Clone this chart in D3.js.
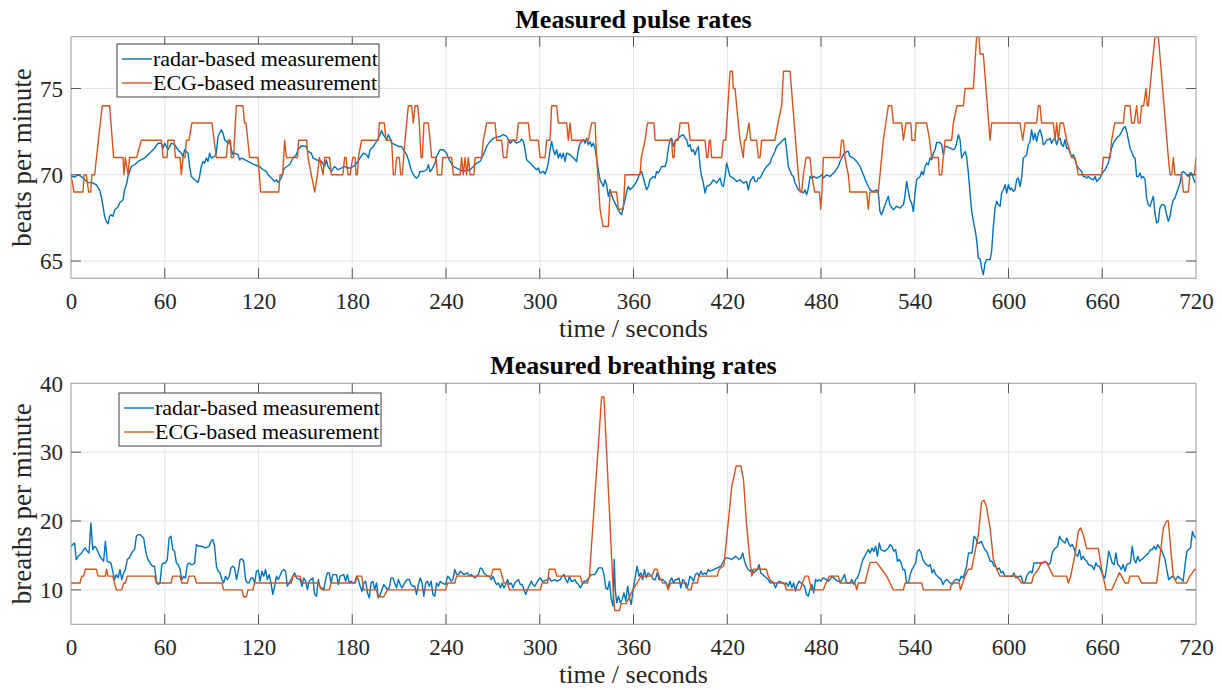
<!DOCTYPE html>
<html>
<head>
<meta charset="utf-8">
<script src="https://cdn.jsdelivr.net/npm/d3@7/dist/d3.min.js"></script>
<style>
  html, body { margin: 0; padding: 0; background: #fff; }
  svg { display: block; font-family: "Liberation Serif", "Times New Roman", serif; }
</style>
</head>
<body>
<svg id="chart" width="1222" height="690"></svg>
<script>
// values, [time in s, rate]
var xTicks = [0, 60, 120, 180, 240, 300, 360, 420, 480, 540, 600, 660, 720];
var pulseTicks = [65, 70, 75];
var breathTicks = [10, 20, 30, 40];
var seriesNames = ["radar-based measurement", "ECG-based measurement"];

var pulseRadar = [[0.2,69.94],[2.3,69.86],[4.5,70],[6.6,69.9],[8.7,69.71],[10.9,69.56],[14.1,69.52],[16.2,69.42],[18.3,69.13],[19.4,68.75],[20.5,68.17],[21.5,67.59],[22.6,67.3],[23.7,67.16],[24.7,67.59],[25.8,67.68],[26.9,67.59],[27.9,67.97],[30.1,68.13],[31.1,68.36],[33.3,68.55],[34.3,69.13],[35.4,69.42],[36.5,69.9],[37.5,70.19],[38.6,70.48],[40.7,70.58],[42.9,70.77],[45,70.87],[47.1,70.97],[49.3,71.16],[51.4,71.35],[53.5,71.54],[55.7,71.83],[57.8,71.83],[58.9,71.54],[59.9,71.83],[62.1,71.45],[64.2,71.83],[66.3,71.74],[68.5,71.45],[70.6,71.25],[71.7,71.06],[72.7,71.45],[74.9,71.25],[75.9,70.48],[77,69.9],[79.1,69.71],[81.3,69.56],[82.3,69.9],[83.4,70.48],[84.5,70.77],[85.5,70.68],[86.6,70.97],[87.7,70.77],[88.7,71.25],[89.8,70.97],[91.9,71.06],[93,71.25],[94.1,72.22],[96.2,72.61],[97.3,72.41],[98.3,72.03],[100.5,71.83],[101.5,71.93],[102.6,71.45],[103.7,71.16],[104.7,71.25],[106.9,71.16],[107.9,70.87],[109,70.97],[111.1,70.87],[113.3,70.77],[115.4,70.68],[117.5,70.58],[120.7,70.48],[122.9,70.29],[125,70.19],[126.1,70],[128.2,69.81],[130.3,69.61],[131.4,69.71],[132.5,69.56],[134.6,69.81],[135.7,70.19],[136.7,70.39],[139.9,70.58],[142.1,70.97],[144.2,71.16],[145.3,71.45],[147.4,71.68],[150.6,71.64],[151.7,71.35],[153.8,71.25],[154.9,70.97],[157,70.87],[160.2,70.77],[162.3,70.48],[163.4,70.87],[164.5,70.48],[166.6,70.19],[168.7,70.48],[170.9,70.29],[173,70.39],[175.1,70.48],[177.3,70.39],
  [178.6,70.39],[180.7,70.48],[182.8,70.68],[185,70.97],[187.1,71.25],[189.2,71.16],[190.3,70.97],[191.4,71.45],[193.5,71.64],[195.6,71.93],[197.8,72.32],[198.8,72.57],[199.9,72.32],[202,72.03],[203.1,72.32],[204.2,72.12],[205.2,71.83],[207.4,71.74],[209.5,71.64],[211.6,71.64],[212.7,71.45],[214.8,71.16],[215.9,70.87],[218,70.19],[220.2,69.86],[221.2,69.81],[222.3,69.9],[223.4,70.19],[225.5,70.19],[227.6,70.29],[228.7,70.58],[229.8,70.19],[230.8,70.29],[231.9,70.48],[233,70.68],[234,71.06],[236.2,71.45],[238.3,71.45],[240.4,71.25],[241.5,70.97],[242.6,70.77],[244.7,70.48],[246.8,70.39],[249,70.29],[251.1,70.19],[253.2,70.25],[255.4,70.29],[257.5,70.48],[259.6,70.68],[261.8,70.77],[263.9,71.16],[266,71.64],[268.2,71.93],[270.3,72.12],[272.4,72.18],[274.6,72.22],[276.7,72.32],[278.8,72.22],[281,71.83],[283.1,72.03],[285.2,71.83],[287.4,71.93],[288.4,72.07],[289.5,71.93],[290.6,71.45],[291.6,70.87],[293.8,70.68],[295.9,70.48],[298,70.29],[299.1,70.39],[300.2,70.1],[302.3,70.19],[303.4,70.06],[304.4,70.29],[305.5,70.68],[306.6,71.45],[307.6,71.93],[308.7,71.45],[309.7,71.16],[310.8,71.45],[311.9,70.97],[313,71.25],[314,70.97],[315.1,71.25],[316.2,70.77],[317.2,71.25],[319.4,71.16],[321.5,70.97],[323.6,70.77],[324.7,71.45],[325.8,71.83],[327.9,72.03],[329,71.83],[330,72.12],[331.1,71.74],[332.2,71.93],[333.2,71.64],[334.3,71.83],[335.4,71.54],[336.4,70.97],[337.5,70.29],[338.6,69.71],[340.7,69.32],[341.8,69.71],[342.8,69.42],[343.9,68.75],[345,69.13],[346,68.84],[347.1,68.55],[349.2,68.17],[351.4,67.78],[352.4,67.68],[353.5,68.17],[354.6,68.55],[355.6,69.03],[356.7,69.32],
  [357.8,69.13],[359.9,69.32],[362,69.61],[364.2,70.1],[365.2,70.19],[366.3,69.81],[368.4,69.13],[369.5,69.32],[370.6,69.71],[372.7,69.9],[373.8,69.81],[374.8,70.19],[375.9,70.1],[377,70.29],[378,70.48],[380.2,70.48],[381.2,70.77],[382.3,71.54],[383.4,72.03],[384.4,72.12],[385.5,71.64],[386.6,71.93],[387.6,72.03],[389.8,72.22],[391.9,72.32],[393,72.12],[394,72.03],[395.1,71.64],[396.2,71.74],[397.2,71.35],[398.3,71.45],[399.4,71.16],[400.4,71.45],[401.5,71.64],[402.6,70.48],[403.6,69.9],[404.7,69.52],[405.8,68.94],[406.8,69.32],[409,69.42],[411.1,69.71],[413.2,69.52],[415.4,69.81],[416.4,69.42],[417.5,69.32],[418.6,69.9],[419.6,70.68],[420.7,70.29],[421.8,69.9],[423.9,69.81],[426,69.61],[428.2,69.71],[430.3,69.52],[432.4,69.61],[433.5,69.13],[434.6,69.61],[436.7,69.9],[437.8,69.61],[438.8,69.61],[439.9,69.81],[441,69.81],[443.1,70.19],[445.2,70.48],[447.4,70.68],[448.4,70.97],[449.5,71.16],[450.5,71.35],[451.6,71.64],[453.7,71.83],[455.9,72.03],[457,72.12],[458,71.45],[459.1,70.48],[461.2,70],[462.3,69.9],[463.4,69.52],[465.5,69.13],[467.6,69.03],[468.7,68.94],[469.7,69.13],[470.8,68.84],[471.9,69.23],[473,69.9],[474,69.81],[475.1,69.9],[477.2,69.81],[479.4,69.9],[480.4,70],[481.5,69.81],[483.6,70],[485.8,69.9],[486.8,70],[489,70.19],[491.1,70.48],[492.2,70.77],[494.3,71.16],[496.4,71.35],[497.5,71.35],[498.5,71.06],[500.7,70.97],[502.8,70.77],[505,70.48],[507.1,70],[509.2,69.52],[511.4,69.13],[513.5,69.03],[515.6,69.13],[516.7,68.94],[517.7,67.88],[518.8,67.68],[521,68.26],[523.1,68.75],[524.1,68.26],[526.3,67.97],[528.4,68.17],[530.5,68.07],[532.7,68.26],[533.7,68.75],[534.8,69.61],[536.9,68.55],
  [538,68.36],[539.1,67.88],[540.2,68.94],[541.2,69.71],[542.3,69.81],[543.4,69.9],[544.4,70.19],[545.5,70],[546.6,70.48],[547.6,70.68],[548.7,70.58],[549.8,70.97],[550.8,70.87],[551.9,71.25],[553,71.45],[554,71.87],[556.2,71.87],[557.2,71.74],[558.3,71.16],[559.4,71.64],[560.4,71.64],[562.6,71.54],[564.7,71.45],[565.8,71.54],[566.8,71.83],[567.9,72.32],[569,72.03],[570,70.97],[571.1,71.16],[572.2,71.35],[573.2,71.06],[574.3,70.1],[575.4,68.94],[576.4,67.88],[578.6,66.81],[579.6,66.24],[580.7,65.17],[581.8,65.12],[582.8,64.59],[583.9,64.21],[585,64.88],[586,65.08],[588.2,65.08],[589.2,65.56],[590.3,67],[591.4,68.07],[592.4,68.46],[593.5,68.26],[594.6,68.17],[595.6,68.94],[596.7,69.13],[597.8,69.42],[598.8,68.94],[599.9,69.42],[601,69.13],[602,69.23],[603.1,69.03],[604.2,69.13],[605.2,69.71],[606.3,69.81],[607.4,69.32],[608.4,69.81],[609.5,70.97],[610.6,71.06],[611.6,71.16],[612.7,71.74],[613.8,71.93],[614.8,72.61],[615.9,72.03],[617,72.41],[618,71.93],[619.1,72.41],[620.2,72.61],[621.2,72.32],[622.3,71.74],[623.4,71.83],[624.4,72.03],[625.5,72.03],[626.6,72.12],[627.6,71.83],[628.7,72.03],[629.8,72.12],[630.8,71.74],[631.9,72.03],[633,72.12],[634,71.74],[635.1,71.64],[636.2,72.03],[637.2,71.54],[638.3,71.54],[639.4,71.25],[640.4,71.06],[641.5,71.16],[642.6,70.87],[643.6,70.58],[644.7,70.39],[645.8,70.29],[646.8,70.19],[647.9,69.9],[649,69.9],[650,69.81],[651.1,69.9],[652.2,69.81],[654.3,69.71],[655.4,69.9],[656.4,69.61],[657.5,69.71],[658.6,69.81],[659.6,70],[660.7,70.19],[661.8,70.29],[662.8,70.48],[663.9,70.68],[665,71.16],[666,71.54],[667.1,71.83],[669.2,72.12],[671.4,72.32],[673.5,72.7],[674.6,72.8],[675.6,72.51],[676.7,72.03],[677.8,71.54],[678.8,71.35],[679.9,71.06],[681,70.97],[682,69.9],[683.1,69.9],[684.2,70.1],[685.2,69.81],[686.3,69.9],[687.4,69.71],[688.4,68.65],[689.5,68.26],[690.6,68.17],[691.6,68.46],[692.7,68.75],[693.7,67.78],[694.8,67.2],[695.9,67.3],[696.9,68.07],[698,68.26],[699.1,68.26],[700.1,68.17],[701.2,67.68],[702.3,67.3],[703.4,67.59],[704.4,68.17],[705.5,68.55],[706.5,68.65],[707.6,68.94],[708.7,69.23],[709.8,69.52],[710.8,70.1],[711.9,70.19],[713,70.1],[714,70],[715.1,69.9],[716.1,70.1],[717.2,70.1],[718.3,69.81],[719.4,69.52]];

var pulseEcg = [[0,70],[1.9,69],[7.7,69],[8.3,70],[9.8,70],[11.3,69],[12.6,69],[13.4,70],[15.1,70],[20,74],[24.7,74],[27.3,71],[33.3,71],[33.9,70],[34.8,71],[36.5,70],[37.5,71],[42,71],[45,72],[57.8,72],[59,71],[61.5,71],[62,72],[66,72],[66.8,71],[69.8,71],[70.6,70],[71.7,71],[73,71],[73.8,72],[75.5,72],[77.4,73],[90.2,73],[93,71],[99.4,71],[100.5,72],[102,72],[102.6,71],[104,71],[105.8,74],[110,74],[111,73],[112,73],[114.3,71],[119.7,71],[121.4,69],[132.9,69],[133.8,70],[135.5,70],[136.7,72],[137.8,71],[144.9,71],[145.7,72],[150.8,72],[151.7,71],[153.8,70],[156,69],[157.7,70],[159,71],[161.3,70],[162.3,71],[165.5,71],[166.6,70],[174,70],[175.1,71],[176,71],[177.3,70],[178.6,70],[180.3,71],[181.8,71],[182.4,70],[183.3,70],[183.9,71],[186,72],[196.7,72],[197.3,73],[200.5,73],[201.6,72],[205.2,72],[206.3,70],[207.4,70],[208.4,71],[210.1,71],[211,70],[212,70],[212.9,71],[213.8,72],[214.8,73],[215.9,74],[218,74],[219.1,73],[220.2,74],[221.9,74],[222.9,73],[224,71],[224.9,71],[225.9,73],[228.7,73],[229.8,72],[230.8,71],[233.6,71],[234.5,70],[237.2,70],[237.9,71],[243.6,71],[244.7,70],[249,70],[250,71],[251.1,70],[252.2,71],[253.2,70],[254.3,71],[255.4,70],[257.9,70],[258.6,71],[262.8,71],[263.9,72],[266,73],[271.4,73],[272.4,72],[275.6,72],[276.7,71],[278.8,71],[279.9,72],[285.2,72],[286.3,73],[292.7,73],[293.8,72],[299.1,72],[300.2,71],[303.4,71],[304.4,72],[306.6,72],[307.6,74],[310.8,74],[311.9,73],[317.2,73],[318.3,72],[319.4,73],[320.4,72],[331.1,72],[333.2,73],[335.4,73],[336.4,71],[338.6,68],[340.5,67],[343.9,67],[345,69],[349.2,69],[350.3,68],[353.5,68],[354.6,70],[364.2,70],[365,71],[367.4,72],[368.9,73],[373.1,73],[373.8,72],[384.4,72],[385.1,71],[386,71],[386.6,72],[388.6,72],[389.8,73],[395.1,73],[396.2,72],[405.8,72],[406.8,71],[407.6,71],[408.5,72],[409.2,72],[410,71],[416.4,71],[417.5,72],[419,72],[421.8,76],[423.3,76],[423.9,75],[425,75],[426,74],[428.2,72],[430.3,71],[431,72],[432,72],[433.9,73],[435,72],[438.8,72],[439.9,71],[441,71],[442,72],[450.5,72],[452.5,73],[454.8,74],[456,76],[460.2,76],[465.5,70],[466.6,69],[467.6,69],[468.7,70],[470.4,71],[473,71],[474,70],[476,69],[479,69],[479.8,68],[480.6,69],[481.5,71],[492.1,71],[493.2,72],[494.3,72],[495.3,71],[497.5,70],[498.5,69],[509.2,69],[510.3,68],[511.3,69],[516.7,69],[519.9,72],[523.1,74],[525.2,74],[526.3,73],[531.6,73],[532.7,72],[534.4,73],[537.5,73],[538.2,72],[540.2,72],[540.8,73],[547.6,73],[549.5,72],[550.8,71],[555.1,71],[555.7,70],[557.2,70],[558.3,71],[559.4,72],[563.6,72],[564.7,73],[567,74],[571.1,74],[572.2,75],[577.5,75],[579.6,78],[581.1,78],[581.8,77],[583.9,77],[588.2,72],[589.2,73],[607.4,73],[609.1,72],[610.6,73],[618,73],[619.1,74],[620.2,74],[621.2,73],[628.7,73],[629.8,72],[630.8,73],[631.9,72],[633,73],[635.1,73],[637.2,72],[640.4,71],[642.6,71],[644.7,70],[659.6,70],[660.7,71],[665,71],[666,72],[668,73],[673.5,73],[674.6,74],[677.8,74],[678.8,73],[680.5,73],[682,74],[683,73],[684.2,73],[685.2,74],[686.5,74],[688,75],[688.8,74],[689.5,74],[690.5,75],[693.7,78],[695.9,78],[702.3,71],[703.4,70],[704.5,70],[705.5,71],[706.5,70],[710.8,70],[711.9,69],[715.1,69],[716.1,70],[719,70],[720,71]];

var breathRadar = [[0,16.33],[1.07,16.57],[2.24,16.81],[3.4,14.4],[4.57,14.88],[6.9,15.36],[8.06,15.85],[9.23,16.09],[10.39,15.6],[11.55,15.36],[12.72,19.71],[13.88,15.85],[15.05,16.33],[16.21,16.09],[18.54,14.88],[20.87,14.15],[22.03,17.05],[23.2,14.15],[25.53,13.91],[26.69,12.71],[27.86,11.5],[29.02,12.22],[30.19,11.74],[31.35,12.95],[32.52,11.5],[33.68,12.46],[34.84,12.95],[36.01,14.4],[37.17,14.64],[39.5,15.6],[40.67,15.85],[41.83,17.78],[43,18.02],[44.16,18.02],[45.32,17.78],[46.49,17.54],[47.65,15.85],[48.82,14.64],[51.15,13.67],[52.31,13.43],[53.48,13.43],[54.64,11.26],[55.81,10.77],[56.97,11.01],[58.13,13.67],[59.3,13.91],[60.46,13.91],[61.63,14.4],[62.79,17.54],[63.96,17.78],[65.12,15.85],[66.29,15.6],[67.45,13.91],[68.61,13.67],[69.78,12.95],[70.94,11.5],[72.11,11.98],[73.27,11.74],[74.44,13.67],[75.6,13.91],[76.77,13.67],[77.93,13.67],[79.1,13.91],[80.26,16.57],[81.42,16.33],[83.75,16.33],[86.08,16.09],[88.41,16.33],[89.58,17.05],[90.74,17.3],[91.9,16.33],[93.07,13.43],[94.23,12.71],[95.4,12.46],[96.56,11.5],[97.73,11.01],[98.89,11.98],[100.06,11.5],[101.22,11.98],[102.39,13.19],[103.55,13.43],[104.71,13.19],[105.88,11.5],[107.04,12.71],[108.21,14.4],[109.37,14.49],[110.54,14.15],[111.7,11.5],[112.87,11.01],[114.03,11.01],[115.19,11.74],[116.36,11.74],[117.52,11.01],[118.69,12.71],[119.85,12.85],[121.02,11.26],[122.18,12.71],[123.35,11.98],[124.51,12.95],[125.68,11.5],[126.84,12.22],[128,11.01],[129.17,9.32],[130.33,10.53],[131.5,11.98],[132.66,11.5],[134.99,12.71],[136.16,12.95],[137.32,12.71],[138.48,10.53],[139.65,11.01],[141.98,11.98],[143.14,12.46],[144.31,11.74],[146.64,11.5],[147.8,10.53],[148.97,11.74],[150.13,11.26],[151.29,10.05],[152.46,11.26],[153.62,11.5],[154.79,11.74],[155.95,9.32],[157.12,9.08],[158.28,11.5],[159.45,10.29],[160.61,10.29],[161.77,10.05],[162.94,11.5],[164.1,12.46],[165.27,12.46],[166.43,11.01],[167.6,12.22],[169.93,12.22],[171.09,10.77],[172.26,11.98],[174.58,12.22],[175.75,11.26],[176.91,12.22],[178.08,11.01],[179.24,11.26],[180.41,11.01],[181.57,11.01],[182.74,11.98],[183.9,11.5],[185.06,10.53],[186.23,9.81],[187.39,11.01],[188.56,11.26],[189.72,9.57],[190.89,8.84],[192.05,11.01],[193.22,11.26],[194.38,10.05],[195.55,11.01],[196.71,8.84],[197.87,9.32],[200.2,10.77],[202.53,10.05],[203.7,10.29],[204.86,11.74],[206.03,11.74],[207.19,11.01],[208.35,10.29],[209.52,11.5],[210.68,10.77],[211.85,10.29],[213.01,10.77],[214.18,11.26],[215.34,11.5],[216.51,11.5],[217.67,10.77],[218.83,10.53],[220,10.53],[221.16,9.32],[222.33,10.77],[223.49,11.74],[224.66,11.01],[225.82,9.08],[226.99,11.01],[228.15,11.26],[229.31,10.53],[230.48,11.26],[231.64,9.32],[232.81,9.08],[233.97,11.01],[235.14,10.53],[236.3,11.26],[237.47,11.01],[239.8,10.77],[240.96,11.98],[242.13,11.74],[243.29,11.26],[244.45,11.5],[245.62,12.95],[246.78,12.22],[247.95,12.22],[249.11,12.71],[251.44,12.22],[253.77,12.46],[254.94,11.98],[256.1,12.22],[258.43,11.74],[260.76,12.22],[261.92,13.19],[263.09,13.04],[264.25,12.46],[265.42,12.22],[266.58,11.98],[267.74,11.98],[268.91,11.5],[270.07,11.98],[271.24,11.26],[272.4,10.77],[273.57,11.01],[274.73,10.29],[275.9,11.01],[277.06,10.29],[278.22,10.77],[279.39,11.5],[280.55,10.77],[281.72,11.01],[282.88,10.29],[284.05,11.01],[286.38,11.5],[287.54,10.77],[288.71,10.77],[289.87,10.05],[291.03,9.32],[292.2,10.05],[294.53,11.26],[295.69,10.77],[296.86,10.53],[298.02,11.01],[299.19,11.5],[300.35,11.74],[301.51,11.26],[302.68,11.26],[305.01,11.5],[306.17,11.74],[307.34,11.26],[309.67,11.5],[310.83,11.26],[313.16,11.5],[314.32,11.98],[315.49,12.22],[316.65,11.5],[317.82,11.01],[318.98,11.98],[320.15,11.26],[321.31,11.26],[322.48,11.5],[323.64,11.01],[324.8,10.77],[325.97,10.29],[327.13,10.77],[328.3,11.26],[329.46,11.26],[330.63,11.5],[332.96,12.22],[335.29,12.22],[337.61,13.19],[339.94,13.19],[341.11,12.22],[342.27,10.29],[343.44,10.05],[344.6,11.26],[345.77,8.6],[346.93,7.63],[347.63,14.4],[348.33,10.05],[349.26,8.12],[350.42,9.08],[351.59,8.12],[352.75,8.6],[353.92,9.57],[355.08,8.36],[356.24,10.53],[357.41,8.84],[358.57,7.87],[359.74,10.05],
  [362.3,13.43],[363.5,11.98],[364.7,12.46],[365.8,11.5],[367,12.95],[368.2,11.74],[369.3,12.46],[371.6,11.98],[372.8,11.5],[374,11.5],[375.1,12.46],[376.3,11.5],[378.6,11.5],[381,11.01],[382.1,10.29],[383.3,11.26],[384.5,11.74],[385.6,11.01],[386.8,11.5],[388,11.5],[389.1,11.74],[390.3,10.29],[391.5,11.5],[392.6,11.26],[393.8,10.29],[395,10.77],[396.1,11.98],[397.3,11.74],[398.4,11.26],[399.6,12.22],[400.8,12.46],[401.9,11.98],[403.1,12.71],[404.3,12.22],[405.4,12.46],[406.6,12.22],[407.8,12.95],[408.9,12.71],[411.3,12.95],[413.6,13.19],[415.9,13.43],[418.2,14.4],[419.4,14.64],[420.6,14.64],[422.9,14.4],[425.2,14.88],[427.6,14.4],[428.7,14.64],[429.9,15.36],[431.1,14.15],[432.2,13.43],[433.4,12.95],[434.6,12.71],[435.7,12.95],[436.9,12.46],[438.1,12.71],[439.2,12.95],[440.4,13.67],[441.5,12.46],[443.9,11.98],[446.2,11.5],[447.4,11.01],[448.5,11.26],[449.7,11.01],[450.9,10.29],[452,11.01],[453.2,11.26],[455.5,11.01],[456.7,10.77],[457.9,11.01],[459,10.53],[460.2,11.26],[461.4,10.29],[462.5,11.01],[463.7,9.81],[464.8,10.77],[466,11.26],[467.2,11.01],[469.5,10.53],[470.7,9.32],[471.8,9.08],[473,10.05],[474.2,10.77],[475.3,9.57],[476.5,11.5],[477.7,11.26],[478.8,11.5],[480,11.26],[481.2,11.74],[483.5,11.5],[484.7,11.26],[485.8,11.5],[487,11.98],[488.2,11.74],[490.5,11.26],[492.8,11.26],[495.1,12.22],[496.3,11.01],[497.5,11.01],[498.6,11.01],[499.8,11.5],[501,10.77],[502.1,11.5],[503.3,11.74],[504.5,12.46],[506.8,14.4],[509.1,15.36],[510.3,15.85],[511.5,15.36],[512.6,16.09],[513.8,15.6],[515,16.33],[516.1,14.88],[517.3,16.81],[518.4,15.85],[520.8,15.6],[523.1,16.09],[524.3,16.57],[525.4,16.33],[526.6,15.6],[527.8,15.85],[528.9,14.15],[530.1,14.4],[531.3,13.91],[532.4,12.95],[533.6,12.95],[534.8,11.01],[535.9,11.01],[537.1,12.22],[538.2,12.95],[539.4,13.43],[540.6,13.91],[541.7,15.6],[542.9,15.85],[544.1,15.36],[545.2,14.4],[546.4,13.91],[547.6,13.67],[548.7,13.43],[549.9,13.67],[551.1,12.46],[552.2,12.95],[553.4,12.22],[554.6,11.98],[555.7,11.74],[556.9,11.5],[558,10.77],[559.2,11.26],[560.4,11.5],[562.7,11.01],[563.9,10.77],[565,11.26],[566.2,11.5],[567.4,11.5],[568.5,11.26],[569.7,11.98],[570.9,11.74],[572,12.46],[573.2,13.43],[574.4,15.36],[576.7,15.36],[577.9,17.78],[579,17.54],[580.2,16.81],[581.4,16.81],[582.5,17.05],[584.8,15.85],[586,15.6],[587.2,14.88],[588.3,14.15],[589.5,14.15],[590.7,13.43],[591.8,13.43],[593,12.95],[594.1,13.19],[595.3,12.46],[596.5,12.71],[597.6,11.98],[600,11.98],[601.1,11.98],[602.3,11.98],[603.5,12.46],[604.6,11.74],[607,11.98],[608.1,11.98],[609.3,11.01],[610.5,11.01],[611.6,11.98],[612.8,12.46],[614,12.71],[615.1,12.46],[616.3,13.91],[617.5,13.91],[618.6,13.91],[621,13.91],[622.1,13.91],[623.3,14.15],[625.6,13.67],[626.8,13.91],[628,15.36],[629.1,15.85],[631.4,16.33],[632.6,17.78],[633.8,17.3],[634.9,17.05],[636.1,16.81],[637.3,17.54],[638.4,16.81],[639.6,16.33],[640.8,16.57],[641.9,16.09],[643.1,15.12],[644.3,14.88],[645.4,15.85],[646.6,14.4],[647.7,14.88],[648.9,14.4],[650.1,14.15],[651.2,13.67],[653.6,13.43],[654.7,12.95],[655.9,13.91],[657.1,13.43],[658.2,13.43],[659.4,12.71],[660.6,11.98],[661.7,11.74],[662.9,13.43],[664.1,15.6],[665.2,14.88],[666.4,13.91],[667.6,13.67],[668.7,15.36],[669.9,13.67],[671.1,13.43],[672.2,12.95],[673.4,13.67],[674.6,12.71],[675.7,13.67],[678,13.91],[679.2,16.33],[680.4,14.4],[681.5,13.91],[682.7,14.88],[683.9,14.15],[686.2,14.64],[687.4,14.88],[688.5,15.12],[689.7,15.36],[690.9,15.85],[692,15.85],[693.2,16.33],[694.4,15.85],[695.5,16.57],[696.7,16.09],[697.8,15.85],[699,15.12],[700.2,14.4],[701.3,12.95],[702.5,11.5],[703.7,11.74],[704.8,11.98],[707.2,11.5],[708.3,11.98],[709.5,11.74],[710.7,11.5],[711.8,11.26],[713,13.67],[714.2,15.6],[715.3,15.85],[716.5,16.09],[717.7,18.5],[718.8,17.78],[720,17.54]];

var breathEcg = [[0,11],[5.7,11],[6.9,12],[8.1,12],[9.2,13],[16.2,13],[17.4,12],[22,12],[22.7,13],[23.7,12],[26.7,12],[29,10],[32.5,10],[33.7,11],[34.8,11],[36,12],[53.5,12],[54.6,11],[64,11],[65.1,12],[69.8,12],[70.9,11],[74.4,11],[75.6,12],[79.1,12],[80.3,11],[96.6,11],[97.7,10],[109.4,10],[110.5,9],[112.2,9],[113.3,10],[116.4,10],[117.5,11],[141,11],[142,12],[146.6,12],[147.8,11],[158.3,11],[160.6,10],[165.3,10],[166.4,11],[182,11],[183,12],[186,12],[187.4,10],[195.5,10],[196.5,9],[200.2,9],[202.5,10],[239.8,10],[241,11],[245.6,11],[246.8,12],[268.9,12],[270.1,13],[274.7,13],[275.9,12],[277.1,11],[279.4,11],[280.6,10],[300.4,10],[301.5,11],[305,11],[306,13],[309.7,13],[310.8,12],[326,12],[327.1,11],[330.6,11],[331.8,12],[339.6,38],[341.1,38],[347,10],[348,7],[351,7],[352.1,8],[355.3,8],[359.6,10],[362.3,11],[364.7,12],[371.6,12],[373.5,13],[375.1,13],[376.3,12],[378.6,11],[381,11],[382.1,10],[383.8,11],[393.8,11],[395,10],[396.8,10],[397.7,11],[400.8,11],[401.9,12],[413.6,12],[414.8,13],[417.8,13.5],[419.4,17],[422.9,25],[425.7,28],[428.7,28],[430.4,26],[432.2,20],[434.6,14],[435.7,12],[436.9,13],[445,13],[446.2,12],[448.5,11],[456.7,11],[457.9,10],[466.6,10],[469.8,12],[471.9,12],[474,10],[481.5,10],[483.2,11],[485.3,12],[491.1,12],[492.2,11],[501.8,11],[502.8,10],[503.9,11],[508.2,11],[509.2,12],[511.4,14],[515.6,14],[518.8,13],[522,12],[524.2,11],[526.3,10],[532.7,10],[533.8,11],[544.4,11],[545.5,10],[562.6,10],[563.6,11],[568.5,11],[569.2,10],[570.7,11],[572.2,12],[574.3,13],[576.4,13],[580.7,18],[582.8,22.8],[584.3,23],[586,22],[588.2,19],[590.3,14.5],[592.4,13],[594.5,12],[605.2,12],[608.4,11],[614.8,11],[615.9,12],[619.1,13],[621.2,14],[624.4,14],[626.5,13],[628.7,12],[637.2,12],[638.3,11],[639.8,12],[642.5,15],[644.7,18.5],[646.2,19],[647.9,18],[650,16],[657.5,16],[659.6,13],[662.4,10],[666,10],[668.1,11],[670.9,12.5],[672.4,12],[674.5,11],[676.7,11],[677.7,12],[683.1,12],[685.2,11],[694.8,11],[697,15],[699.1,19],[701.2,20],[702.3,20],[703.8,16],[705.5,12],[707.6,11],[714,11],[716.1,12],[719.3,13],[720,13]];

var COLORS = ["#0072BD", "#D95319"],
  LEFT = 71,
  RIGHT = 1196,
  svg = d3.select("#chart");

var panels = [
  { title: "Measured pulse rates", ylabel: "beats per minute", top: 36.7, bottom: 278.3,
    domain: [64, 78], ticks: pulseTicks, series: [pulseRadar, pulseEcg], legend: [117, 44], id: "p" },
  { title: "Measured breathing rates", ylabel: "breaths per minute", top: 383.3, bottom: 624.3,
    domain: [5, 40], ticks: breathTicks, series: [breathRadar, breathEcg], legend: [119, 393], id: "b" }
];

panels.forEach(drawPanel);

function drawPanel(p) {
  var x = d3.scaleLinear().domain([0, 720]).range([LEFT, RIGHT]),
    y = d3.scaleLinear().domain(p.domain).range([p.bottom, p.top]),
    g = svg.append("g");

  g.append("clipPath").attr("id", "clip-" + p.id)
    .append("rect")
    .attr("x", LEFT).attr("y", p.top)
    .attr("width", RIGHT - LEFT).attr("height", p.bottom - p.top);

  // grid
  g.selectAll(".vgrid").data(xTicks.slice(1, -1)).enter().append("line")
    .attr("x1", d => x(d)).attr("x2", d => x(d))
    .attr("y1", p.top).attr("y2", p.bottom)
    .attr("stroke", "#e4e4e4").attr("stroke-width", 1);
  g.selectAll(".hgrid").data(p.ticks.filter(d => y(d) > p.top + 1)).enter().append("line")
    .attr("x1", LEFT).attr("x2", RIGHT)
    .attr("y1", d => y(d)).attr("y2", d => y(d))
    .attr("stroke", "#e4e4e4").attr("stroke-width", 1);

  var line = d3.line().x(d => x(d[0])).y(d => y(d[1]));
  p.series.forEach(function(s, i) {
    g.append("path")
      .datum(s)
      .attr("clip-path", "url(#clip-" + p.id + ")")
      .attr("fill", "none")
      .attr("stroke", COLORS[i])
      .attr("stroke-width", 1.4)
      .attr("stroke-linejoin", "round")
      .attr("d", line);
  });

  // box + inward ticks on all four sides
  g.append("rect")
    .attr("x", LEFT).attr("y", p.top)
    .attr("width", RIGHT - LEFT).attr("height", p.bottom - p.top)
    .attr("fill", "none").attr("stroke", "#9a9a9a").attr("stroke-width", 1);

  var xAxis = d3.axisBottom(x).tickValues(xTicks).tickSize(0).tickPadding(0);
  var xg = g.append("g")
    .attr("transform", "translate(0," + p.bottom + ")")
    .call(xAxis);
  xg.select(".domain").remove();
  xg.selectAll("text")
    .attr("dy", null).attr("y", 31)
    .style("font-family", "Liberation Serif, serif")
    .style("font-size", "23px").attr("fill", "#262626");

  var yAxis = d3.axisLeft(y).tickValues(p.ticks).tickSize(0).tickPadding(8);
  var yg = g.append("g")
    .attr("transform", "translate(" + LEFT + ",0)")
    .call(yAxis);
  yg.select(".domain").remove();
  yg.selectAll("text")
    .attr("dy", "0.34em")
    .style("font-family", "Liberation Serif, serif")
    .style("font-size", "23px").attr("fill", "#262626");

  var inner = xTicks.slice(1, -1);
  g.selectAll(".xt").data(inner).enter().append("path")
    .attr("d", d => "M" + x(d) + "," + p.bottom + "v-10M" + x(d) + "," + p.top + "v10")
    .attr("stroke", "#555").attr("stroke-width", 1);
  g.selectAll(".yt").data(p.ticks.filter(d => y(d) > p.top + 1)).enter().append("path")
    .attr("d", d => "M" + LEFT + "," + y(d) + "h10M" + RIGHT + "," + y(d) + "h-10")
    .attr("stroke", "#555").attr("stroke-width", 1);

  // titles
  g.append("text")
    .attr("x", (LEFT + RIGHT) / 2).attr("y", p.top - 9)
    .attr("text-anchor", "middle")
    .style("font-size", "26px").style("font-weight", "bold")
    .attr("fill", "#000")
    .text(p.title);

  g.append("text")
    .attr("x", (LEFT + RIGHT) / 2).attr("y", p.bottom + 59)
    .attr("text-anchor", "middle")
    .style("font-size", "26px").attr("fill", "#262626")
    .text("time / seconds");

  g.append("text")
    .attr("transform", "translate(31," + ((p.top + p.bottom) / 2) + ") rotate(-90)")
    .attr("text-anchor", "middle")
    .style("font-size", "27px").attr("fill", "#262626")
    .text(p.ylabel);

  // legend
  var lg = g.append("g").attr("transform", "translate(" + p.legend[0] + "," + p.legend[1] + ")");
  lg.append("rect")
    .attr("width", 262).attr("height", 53)
    .attr("fill", "#fff").attr("stroke", "#404040").attr("stroke-width", 1);
  seriesNames.forEach(function(name, i) {
    var ly = 15 + i * 24;
    lg.append("line")
      .attr("x1", 5).attr("x2", 35).attr("y1", ly).attr("y2", ly)
      .attr("stroke", COLORS[i]).attr("stroke-width", 1.4);
    lg.append("text")
      .attr("x", 36).attr("y", ly).attr("dy", "0.33em")
      .style("font-size", "22px").attr("fill", "#000")
      .text(name);
  });
}
</script>
</body>
</html>
